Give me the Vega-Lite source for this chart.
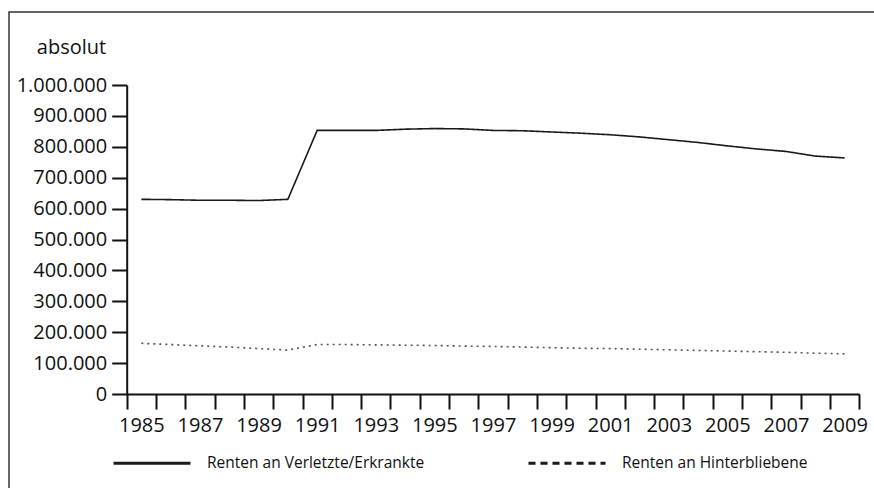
{
  "$schema": "https://vega.github.io/schema/vega-lite/v6.json",
  "width": 870,
  "height": 480,
  "autosize": {"type": "none"},
  "padding": {"left": 9, "top": 12, "right": 0, "bottom": 0},
  "background": "white",
  "config": {
    "view": {"stroke": "#333333", "strokeWidth": 1.5},
    "font": "Open Sans",
    "locale": {"number": {"decimal": ",", "thousands": ".", "grouping": [3], "currency": ["", " €"]}}
  },
  "data": {
    "values": [
      {"year": 1985, "series": "Renten an Verletzte/Erkrankte", "value": 630000},
      {"year": 1986, "series": "Renten an Verletzte/Erkrankte", "value": 629000},
      {"year": 1987, "series": "Renten an Verletzte/Erkrankte", "value": 627000},
      {"year": 1988, "series": "Renten an Verletzte/Erkrankte", "value": 627000},
      {"year": 1989, "series": "Renten an Verletzte/Erkrankte", "value": 626000},
      {"year": 1990, "series": "Renten an Verletzte/Erkrankte", "value": 630000},
      {"year": 1991, "series": "Renten an Verletzte/Erkrankte", "value": 853000},
      {"year": 1992, "series": "Renten an Verletzte/Erkrankte", "value": 853000},
      {"year": 1993, "series": "Renten an Verletzte/Erkrankte", "value": 853000},
      {"year": 1994, "series": "Renten an Verletzte/Erkrankte", "value": 857000},
      {"year": 1995, "series": "Renten an Verletzte/Erkrankte", "value": 859000},
      {"year": 1996, "series": "Renten an Verletzte/Erkrankte", "value": 858000},
      {"year": 1997, "series": "Renten an Verletzte/Erkrankte", "value": 853000},
      {"year": 1998, "series": "Renten an Verletzte/Erkrankte", "value": 852000},
      {"year": 1999, "series": "Renten an Verletzte/Erkrankte", "value": 848000},
      {"year": 2000, "series": "Renten an Verletzte/Erkrankte", "value": 844000},
      {"year": 2001, "series": "Renten an Verletzte/Erkrankte", "value": 839000},
      {"year": 2002, "series": "Renten an Verletzte/Erkrankte", "value": 832000},
      {"year": 2003, "series": "Renten an Verletzte/Erkrankte", "value": 823000},
      {"year": 2004, "series": "Renten an Verletzte/Erkrankte", "value": 814000},
      {"year": 2005, "series": "Renten an Verletzte/Erkrankte", "value": 803000},
      {"year": 2006, "series": "Renten an Verletzte/Erkrankte", "value": 793000},
      {"year": 2007, "series": "Renten an Verletzte/Erkrankte", "value": 785000},
      {"year": 2008, "series": "Renten an Verletzte/Erkrankte", "value": 770000},
      {"year": 2009, "series": "Renten an Verletzte/Erkrankte", "value": 764000},
      {"year": 1985, "series": "Renten an Hinterbliebene", "value": 164000},
      {"year": 1986, "series": "Renten an Hinterbliebene", "value": 160000},
      {"year": 1987, "series": "Renten an Hinterbliebene", "value": 156000},
      {"year": 1988, "series": "Renten an Hinterbliebene", "value": 152000},
      {"year": 1989, "series": "Renten an Hinterbliebene", "value": 147000},
      {"year": 1990, "series": "Renten an Hinterbliebene", "value": 142000},
      {"year": 1991, "series": "Renten an Hinterbliebene", "value": 160000},
      {"year": 1992, "series": "Renten an Hinterbliebene", "value": 160000},
      {"year": 1993, "series": "Renten an Hinterbliebene", "value": 159000},
      {"year": 1994, "series": "Renten an Hinterbliebene", "value": 158000},
      {"year": 1995, "series": "Renten an Hinterbliebene", "value": 157000},
      {"year": 1996, "series": "Renten an Hinterbliebene", "value": 155000},
      {"year": 1997, "series": "Renten an Hinterbliebene", "value": 154000},
      {"year": 1998, "series": "Renten an Hinterbliebene", "value": 152000},
      {"year": 1999, "series": "Renten an Hinterbliebene", "value": 150000},
      {"year": 2000, "series": "Renten an Hinterbliebene", "value": 148000},
      {"year": 2001, "series": "Renten an Hinterbliebene", "value": 147000},
      {"year": 2002, "series": "Renten an Hinterbliebene", "value": 145000},
      {"year": 2003, "series": "Renten an Hinterbliebene", "value": 143000},
      {"year": 2004, "series": "Renten an Hinterbliebene", "value": 141000},
      {"year": 2005, "series": "Renten an Hinterbliebene", "value": 139000},
      {"year": 2006, "series": "Renten an Hinterbliebene", "value": 137000},
      {"year": 2007, "series": "Renten an Hinterbliebene", "value": 135000},
      {"year": 2008, "series": "Renten an Hinterbliebene", "value": 132000},
      {"year": 2009, "series": "Renten an Hinterbliebene", "value": 130000}
    ]
  },
  "encoding": {
    "x": {
      "field": "year",
      "type": "ordinal",
      "bandPosition": 0.5,
      "scale": {"type": "band", "range": [117.7, 850.2], "paddingInner": 0, "paddingOuter": 0},
      "axis": {
        "title": null,
        "offset": -98,
        "tickBand": "extent",
        "tickSize": 15,
        "tickWidth": 2,
        "tickColor": "#111111",
        "domainColor": "#111111",
        "domainWidth": 2,
        "labelAngle": 0,
        "labelFontSize": 20,
        "labelColor": "#111111",
        "labelPadding": 6,
        "labelExpr": "datum.value % 2 == 1 ? datum.label : ''"
      }
    },
    "y": {
      "field": "value",
      "type": "quantitative",
      "scale": {"domain": [0, 1000000], "range": [382, 73], "nice": false},
      "axis": {
        "title": "absolut",
        "titleAngle": 0,
        "titleAlign": "right",
        "titleBaseline": "alphabetic",
        "titleFontWeight": "normal",
        "titleFontSize": 20,
        "titleColor": "#111111",
        "titleX": -21,
        "titleY": 41,
        "offset": -117.7,
        "values": [0, 100000, 200000, 300000, 400000, 500000, 600000, 700000, 800000, 900000, 1000000],
        "format": ",d",
        "tickSize": 15,
        "tickWidth": 2,
        "tickColor": "#111111",
        "domainColor": "#111111",
        "domainWidth": 2,
        "grid": false,
        "labelFontSize": 20,
        "labelColor": "#111111",
        "labelPadding": 5
      }
    }
  },
  "layer": [
    {
      "mark": {"type": "line", "strokeWidth": 1.6},
      "encoding": {
        "color": {
          "field": "series",
          "type": "nominal",
          "scale": {"domain": ["Renten an Verletzte/Erkrankte", "Renten an Hinterbliebene"], "range": ["#1a1a1a", "#555555"]},
          "legend": null
        },
        "strokeDash": {
          "field": "series",
          "type": "nominal",
          "scale": {"domain": ["Renten an Verletzte/Erkrankte", "Renten an Hinterbliebene"], "range": [[1, 0], [2, 4]]},
          "legend": null
        }
      }
    },
    {
      "transform": [{"filter": "false"}],
      "mark": {"type": "line", "strokeWidth": 2.5, "color": "#1a1a1a"},
      "encoding": {
        "strokeDash": {
          "field": "series",
          "type": "nominal",
          "scale": {"domain": ["Renten an Verletzte/Erkrankte", "Renten an Hinterbliebene"], "range": [[1, 0], [7, 5]]},
          "legend": {
            "title": null,
            "orient": "none",
            "direction": "horizontal",
            "legendX": 103,
            "legendY": 411,
            "symbolType": "stroke",
            "symbolSize": 5929,
            "symbolStrokeWidth": 2.8,
            "symbolStrokeColor": "#1a1a1a",
            "labelFontSize": 15.5,
            "labelLimit": 400,
            "labelColor": "#111111",
            "labelOffset": 15,
            "columnPadding": 97
          }
        }
      }
    }
  ],
  "resolve": {"scale": {"strokeDash": "independent"}}
}
